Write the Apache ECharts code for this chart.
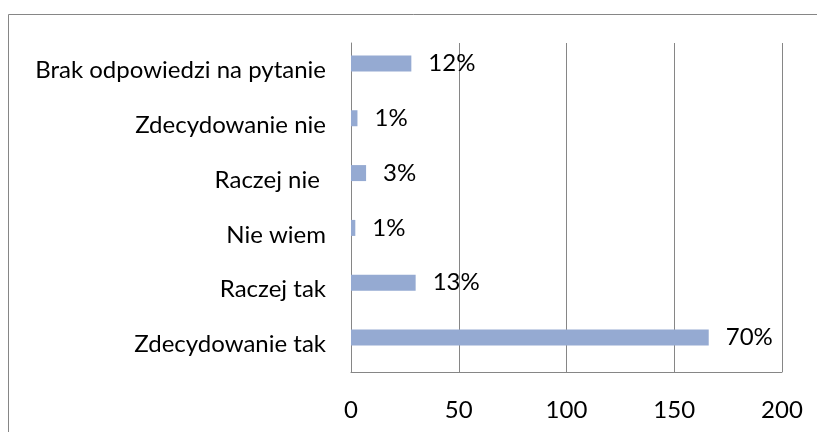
<!DOCTYPE html>
<html>
<head>
<meta charset="utf-8">
<script src="https://cdn.jsdelivr.net/npm/echarts@6/dist/echarts.min.js"></script>
<style>
  html, body { margin: 0; padding: 0; background: #fff; }
  #chart { width: 817px; height: 432px; }
</style>
</head>
<body>
<div id="chart"></div>
<script>
// answers, bottom to top as in the original
var categories = ['Zdecydowanie tak', 'Raczej tak', 'Nie wiem', 'Raczej nie ', 'Zdecydowanie nie', 'Brak odpowiedzi na pytanie'];
var counts = [166, 30, 2, 7, 3, 28];
var percentLabels = ['70%', '13%', '1%', '3%', '1%', '12%'];
var xTicks = [0, 50, 100, 150, 200];

var myChart = echarts.init(document.getElementById('chart'));
var fontFam = 'Lato';
var fs = 24;

myChart.setOption({
    animation: false,
    textStyle: { fontFamily: fontFam },
    graphic: [{
        type: 'rect',
        shape: { x: 8.5, y: 14.5, width: 900, height: 600 },
        style: { fill: 'none', stroke: '#868686', lineWidth: 1 }
    }],
    grid: { left: 351, top: 43, width: 431, height: 329 },
    xAxis: {
        type: 'value',
        min: xTicks[0],
        max: xTicks[xTicks.length - 1],
        interval: 50,
        axisLine: { show: true, lineStyle: { color: '#868686', width: 1 } },
        axisTick: { show: false },
        splitLine: { lineStyle: { color: '#868686', width: 1 } },
        axisLabel: { color: '#000', fontSize: fs, margin: 26, fontFamily: fontFam }
    },
    yAxis: {
        type: 'category',
        data: categories,
        axisLine: { show: true, lineStyle: { color: '#868686', width: 1 } },
        axisTick: { show: false },
        axisLabel: { color: '#000', fontSize: fs, margin: 25, fontFamily: fontFam,
            padding: [6, 0, 0, 0] }
    },
    series: [
        {
            type: 'bar',
            data: counts,
            barWidth: 16,
            barGap: '-12.5%',
            itemStyle: { color: '#95aad2' },
            label: {
                show: true,
                position: 'right',
                distance: 17,
                color: '#000',
                fontSize: fs,
                fontFamily: fontFam,
                formatter: function (p) { return percentLabels[p.dataIndex]; }
            }
        },
        {
            type: 'bar',
            data: categories.map(function () { return null; }),
            barWidth: 16,
            itemStyle: { color: 'transparent' }
        }
    ]
});
</script>
</body>
</html>
